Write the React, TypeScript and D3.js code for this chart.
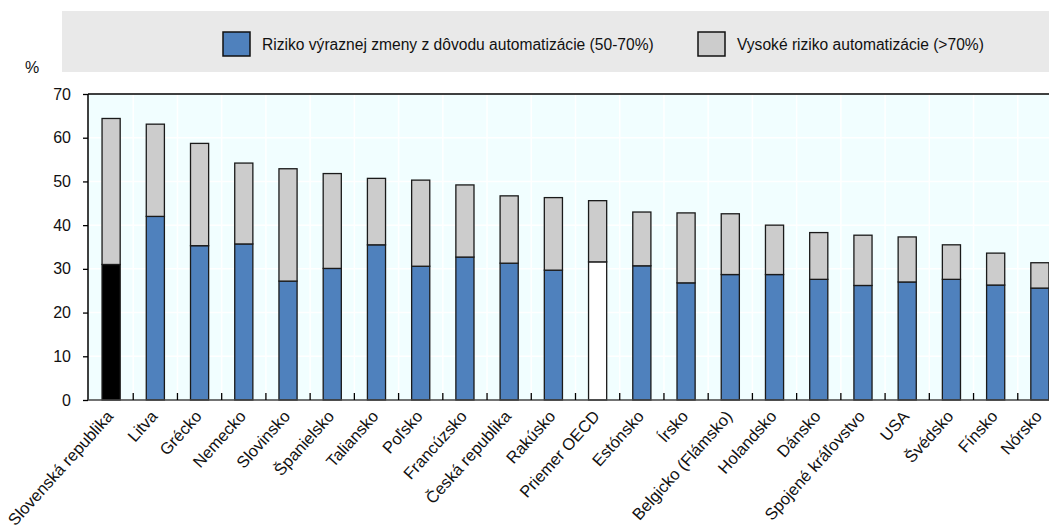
import React, { useEffect, useRef } from 'react';
import * as d3 from 'd3';

const categories = [
  'Slovenská republika', 'Litva', 'Grécko', 'Nemecko', 'Slovinsko', 'Španielsko',
  'Taliansko', 'Poľsko', 'Francúzsko', 'Česká republika', 'Rakúsko', 'Priemer OECD',
  'Estónsko', 'Írsko', 'Belgicko (Flámsko)', 'Holandsko', 'Dánsko',
  'Spojené kráľovstvo', 'USA', 'Švédsko', 'Fínsko', 'Nórsko'
];

// Riziko výraznej zmeny (50-70%)
const changeRisk = [
  31.0, 42.0, 35.3, 35.7, 27.2, 30.1, 35.5, 30.6, 32.7, 31.3, 29.7, 31.6,
  30.7, 26.8, 28.7, 28.7, 27.6, 26.2, 27.0, 27.6, 26.3, 25.6
];

// Vysoké riziko (>70%)
const highRisk = [
  33.4, 21.1, 23.4, 18.5, 25.7, 21.7, 15.2, 19.7, 16.5, 15.4, 16.6, 14.0,
  12.3, 16.0, 13.9, 11.3, 10.7, 11.5, 10.3, 7.9, 7.3, 5.8
];

const yTicks = [0, 10, 20, 30, 40, 50, 60, 70];

const legendLabels = [
  'Riziko výraznej zmeny z dôvodu automatizácie (50-70%)',
  'Vysoké riziko automatizácie (>70%)'
];

const W = 1049;
const H = 531;
const FONT = '"Liberation Sans", Arial, sans-serif';
const BLUE = '#4f81bd';
const GREY = '#cccccc';

const App: React.FC = () => {
  const svgRef = useRef<SVGSVGElement>(null);

  useEffect(() => {
    document.body.style.margin = '0';
    if (!svgRef.current) return;
    const svg = d3.select(svgRef.current);
    svg.selectAll('*').remove();

    const plot = { left: 88, top: 94, bottom: 400, right: 1062 };

    const x = d3.scaleBand<string>()
      .domain(categories)
      .range([plot.left + 1, plot.right]);
    const y = d3.scaleLinear().domain([0, 70]).range([plot.bottom, plot.top]);
    const barW = x.bandwidth() * 0.41;

    const rows = categories.map((c, i) => ({ cat: c, change: changeRisk[i], high: highRisk[i] }));
    const stack = d3.stack<any>().keys(['change', 'high'])(rows);

    // legend box
    svg.append('rect')
      .attr('x', 62).attr('y', 11)
      .attr('width', W - 62).attr('height', 61)
      .attr('fill', '#e9e9e9');

    const legendItems = [
      { x: 223, fill: BLUE, label: legendLabels[0], tx: 262 },
      { x: 698, fill: GREY, label: legendLabels[1], tx: 737 }
    ];
    legendItems.forEach(l => {
      svg.append('rect')
        .attr('x', l.x).attr('y', 32)
        .attr('width', 27).attr('height', 24)
        .attr('fill', l.fill)
        .attr('stroke', '#111').attr('stroke-width', 1.5);
      svg.append('text')
        .attr('x', l.tx).attr('y', 50)
        .style('font-family', FONT).style('font-size', '15.6px')
        .attr('fill', '#111')
        .text(l.label);
    });

    svg.append('text')
      .attr('x', 25).attr('y', 73)
      .style('font-family', FONT).style('font-size', '16px')
      .attr('fill', '#111')
      .text('%');

    // plot background
    svg.append('rect')
      .attr('x', plot.left).attr('y', plot.top)
      .attr('width', plot.right - plot.left).attr('height', plot.bottom - plot.top)
      .attr('fill', '#f1feff');

    // grid
    const grid = svg.append('g').attr('stroke', '#ffffff').attr('stroke-width', 1.5);
    yTicks.slice(1, -1).forEach(t => {
      grid.append('line')
        .attr('x1', plot.left).attr('x2', plot.right)
        .attr('y1', y(t)).attr('y2', y(t));
    });
    categories.slice(1).forEach(c => {
      grid.append('line')
        .attr('x1', x(c)!).attr('x2', x(c)!)
        .attr('y1', plot.top).attr('y2', plot.bottom);
    });

    // bars
    const colorFor = (key: string, cat: string) => {
      if (key === 'high') return GREY;
      if (cat === 'Slovenská republika') return '#000000';
      if (cat === 'Priemer OECD') return '#ffffff';
      return BLUE;
    };

    stack.forEach(series => {
      svg.append('g')
        .selectAll('rect')
        .data(series)
        .enter()
        .append('rect')
        .attr('x', d => x(d.data.cat)! + (x.bandwidth() - barW) / 2)
        .attr('y', d => y(d[1]))
        .attr('width', barW)
        .attr('height', d => y(d[0]) - y(d[1]))
        .attr('fill', d => colorFor(series.key, d.data.cat))
        .attr('stroke', '#1a1a1a')
        .attr('stroke-width', 1.3);
    });

    // frame: top and left
    svg.append('line')
      .attr('x1', plot.left).attr('x2', plot.right)
      .attr('y1', plot.top).attr('y2', plot.top)
      .attr('stroke', '#000').attr('stroke-width', 1.5);
    svg.append('line')
      .attr('x1', plot.left).attr('x2', plot.left)
      .attr('y1', plot.top).attr('y2', plot.bottom)
      .attr('stroke', '#000').attr('stroke-width', 1.5);

    // y axis
    const yAxis = svg.append('g')
      .attr('transform', `translate(${plot.left},0)`)
      .call(d3.axisLeft(y).tickValues(yTicks).tickSize(5).tickPadding(12));
    yAxis.select('.domain').remove();
    yAxis.selectAll('line').attr('stroke', '#000').attr('stroke-width', 1.3);
    yAxis.selectAll('text')
      .style('font-family', FONT).style('font-size', '16px').attr('fill', '#111');

    // x axis line and inward ticks
    svg.append('line')
      .attr('x1', plot.left).attr('x2', plot.right)
      .attr('y1', plot.bottom).attr('y2', plot.bottom)
      .attr('stroke', '#444').attr('stroke-width', 1.5);
    categories.slice(1).forEach(c => {
      svg.append('line')
        .attr('x1', x(c)!).attr('x2', x(c)!)
        .attr('y1', plot.bottom).attr('y2', plot.bottom - 7)
        .attr('stroke', '#000').attr('stroke-width', 1.3);
    });

    // x labels
    svg.append('g')
      .selectAll('text')
      .data(categories)
      .enter()
      .append('text')
      .attr('transform', d => `translate(${x(d)! + x.bandwidth() / 2 + 3},${plot.bottom + 17}) rotate(-48)`)
      .attr('text-anchor', 'end')
      .style('font-family', FONT).style('font-size', '16.5px')
      .attr('fill', '#111')
      .text(d => d);
  }, []);

  return (
    <svg ref={svgRef} width={W} height={H}
      style={{ display: 'block', position: 'absolute', left: 0, top: 0, background: '#fff' }} />
  );
};

export default App;
